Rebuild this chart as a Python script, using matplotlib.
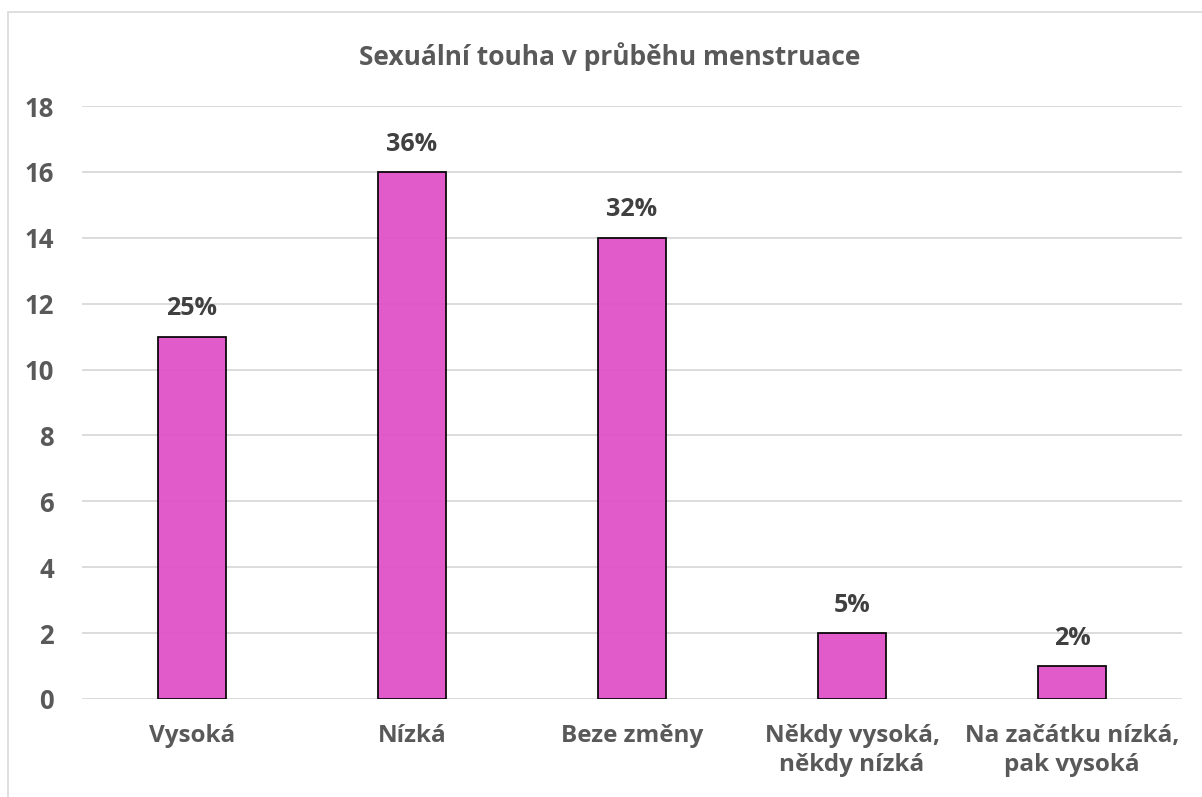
import matplotlib.pyplot as plt
from matplotlib.patches import Rectangle

categories = ['Vysoká', 'Nízká', 'Beze změny', 'Někdy vysoká,\nněkdy nízká', 'Na začátku nízká,\npak vysoká']
counts = [11, 16, 14, 2, 1]
percent_labels = ['25%', '36%', '32%', '5%', '2%']
yticks = list(range(0, 19, 2))

plt.rcParams['font.family'] = ['Open Sans', 'DejaVu Sans']
gray = '#595959'

fig = plt.figure(figsize=(12.02, 7.97), dpi=100)
ax = fig.add_axes([0.0682, 0.123, 0.9152, 0.744])

# chart area border (left and top visible)
fig.patches.append(Rectangle((8 / 1202, -0.1), 1.2, 1 - 12 / 797 + 0.1,
                             transform=fig.transFigure, fill=False,
                             edgecolor='#d9d9d9', linewidth=1.2))

x = range(len(categories))
bars = ax.bar(x, counts, width=0.31, color='#e052c8', alpha=0.95,
              edgecolor='black', linewidth=1.3, zorder=2)

for b, lbl in zip(bars, percent_labels):
    ax.annotate(lbl, (b.get_x() + b.get_width() / 2, b.get_height()),
                xytext=(0, 11), textcoords='offset points',
                ha='center', va='bottom', fontsize=18, fontweight='bold', color='#404040')

ax.set_xlim(-0.5, len(categories) - 0.5)
ax.set_ylim(0, 18)
ax.set_yticks(yticks)
ax.set_xticks(list(x))
ax.set_xticklabels(categories, fontsize=17.5, fontweight='bold', color=gray, linespacing=1.3)
ax.tick_params(axis='y', labelsize=18.5, labelcolor=gray, length=0, pad=20)
ax.tick_params(axis='x', length=0, pad=18)
for t in ax.get_yticklabels():
    t.set_fontweight('bold')

ax.yaxis.grid(True, color='#d9d9d9', linewidth=1.3, zorder=1)
ax.set_axisbelow(True)
for s in ax.spines.values():
    s.set_visible(False)

fig.text(610 / 1202, 1 - 57 / 797, 'Sexuální touha v průběhu menstruace', ha='center', va='center',
         fontsize=19, fontweight='bold', color=gray)

fig.savefig('out.png', dpi=100)
